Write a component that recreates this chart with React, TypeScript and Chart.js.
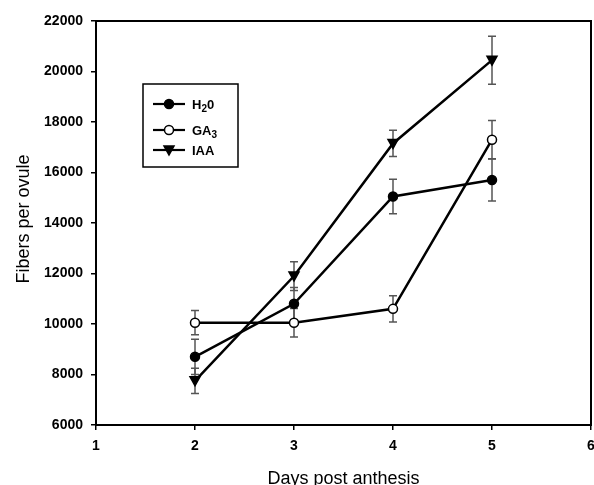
import React, { useEffect, useRef } from "react";
import { Chart, registerables } from "chart.js";

Chart.register(...registerables);

const days = [2, 3, 4, 5];
const h2oValues = [8700, 10800, 15050, 15700];
const h2oErrors = [700, 650, 680, 830];
const ga3Values = [10050, 10050, 10600, 17300];
const ga3Errors = [480, 560, 520, 760];
const iaaValues = [7750, 11900, 17150, 20450];
const iaaErrors = [500, 570, 520, 950];
const xTicks = [1, 2, 3, 4, 5, 6];
const yTicks = [6000, 8000, 10000, 12000, 14000, 16000, 18000, 20000, 22000];

const FONT = "'Liberation Sans', Arial, Helvetica, sans-serif";

const seriesList = [
  { key: "h2o", values: h2oValues, errors: h2oErrors, style: "circle", fill: "#000" },
  { key: "ga3", values: ga3Values, errors: ga3Errors, style: "circle", fill: "#fff" },
  { key: "iaa", values: iaaValues, errors: iaaErrors, style: "triangle", fill: "#000" },
];

function drawMarker(ctx: CanvasRenderingContext2D, style: string, fill: string, x: number, y: number) {
  ctx.save();
  ctx.lineWidth = 1.5;
  ctx.strokeStyle = "#000";
  ctx.fillStyle = fill;
  ctx.beginPath();
  if (style === "circle") {
    ctx.arc(x, y, 4.5, 0, Math.PI * 2);
  } else {
    ctx.moveTo(x - 5, y - 4);
    ctx.lineTo(x + 5, y - 4);
    ctx.lineTo(x, y + 5);
    ctx.closePath();
  }
  ctx.fill();
  ctx.stroke();
  ctx.restore();
}

const errorBarPlugin = {
  id: "errorBars",
  beforeDatasetsDraw(chart: any) {
    const ctx = chart.ctx as CanvasRenderingContext2D;
    const xs = chart.scales.x;
    const ys = chart.scales.y;
    ctx.save();
    ctx.strokeStyle = "#555";
    ctx.lineWidth = 1.5;
    seriesList.forEach((s) => {
      days.forEach((d, i) => {
        const px = xs.getPixelForValue(d);
        const top = ys.getPixelForValue(s.values[i] + s.errors[i]);
        const bot = ys.getPixelForValue(s.values[i] - s.errors[i]);
        ctx.beginPath();
        ctx.moveTo(px, top);
        ctx.lineTo(px, bot);
        ctx.moveTo(px - 4, top);
        ctx.lineTo(px + 4, top);
        ctx.moveTo(px - 4, bot);
        ctx.lineTo(px + 4, bot);
        ctx.stroke();
      });
    });
    ctx.restore();
  },
  afterDatasetsDraw(chart: any) {
    const ctx = chart.ctx as CanvasRenderingContext2D;
    const xs = chart.scales.x;
    const ys = chart.scales.y;
    seriesList.forEach((s) => {
      days.forEach((d, i) => {
        drawMarker(ctx, s.style, s.fill, xs.getPixelForValue(d), ys.getPixelForValue(s.values[i]));
      });
    });
  },
  afterDraw(chart: any) {
    const ctx = chart.ctx as CanvasRenderingContext2D;
    const a = chart.chartArea;
    ctx.save();
    ctx.strokeStyle = "#000";
    ctx.lineWidth = 2;
    ctx.strokeRect(a.left, a.top, a.right - a.left, a.bottom - a.top);

    ctx.fillStyle = "#000";
    ctx.font = `18px ${FONT}`;
    ctx.textAlign = "center";
    ctx.textBaseline = "alphabetic";
    ctx.fillText("Days post anthesis", (a.left + a.right) / 2, 484);
    ctx.save();
    ctx.translate(29, (a.top + a.bottom) / 2 - 4);
    ctx.rotate(-Math.PI / 2);
    ctx.fillText("Fibers per ovule", 0, 0);
    ctx.restore();

    const bx = 143, by = 84, bw = 95, bh = 83;
    ctx.lineWidth = 1.5;
    ctx.strokeStyle = "#000";
    ctx.strokeRect(bx, by, bw, bh);
    const rows = [
      { y: 104, s: seriesList[0], parts: [["H", 0], ["2", 1], ["0", 0]] },
      { y: 130, s: seriesList[1], parts: [["GA", 0], ["3", 1]] },
      { y: 150, s: seriesList[2], parts: [["IAA", 0]] },
    ];
    rows.forEach((r) => {
      ctx.strokeStyle = "#000";
      ctx.lineWidth = 2.2;
      ctx.beginPath();
      ctx.moveTo(153, r.y);
      ctx.lineTo(185, r.y);
      ctx.stroke();
      drawMarker(ctx, r.s.style, r.s.fill, 169, r.y);
      let tx = 192;
      ctx.textAlign = "left";
      ctx.textBaseline = "alphabetic";
      ctx.fillStyle = "#000";
      r.parts.forEach(([t, sub]) => {
        ctx.font = sub ? `bold 10px ${FONT}` : `bold 13px ${FONT}`;
        const yy = sub ? r.y + 8 : r.y + 5;
        ctx.fillText(t as string, tx, yy);
        tx += ctx.measureText(t as string).width;
      });
    });
    ctx.restore();
  },
};

export default function App() {
  const ref = useRef<HTMLCanvasElement | null>(null);
  useEffect(() => {
    if (!ref.current) return;
    const mk = (vals: number[]) => vals.map((v, i) => ({ x: days[i], y: v }));
    const chart = new Chart(ref.current, {
      type: "line",
      data: {
        datasets: seriesList.map((s) => ({
          label: s.key,
          data: mk(s.values),
          borderColor: "#000",
          borderWidth: 2.5,
          pointRadius: 0,
          fill: false,
          tension: 0,
        })),
      },
      options: {
        responsive: false,
        animation: false,
        layout: { padding: { top: 21, right: 3, left: 0, bottom: 0 } },
        plugins: { legend: { display: false }, tooltip: { enabled: false }, title: { display: false } },
        scales: {
          x: {
            type: "linear",
            min: 1,
            max: 6,
            afterBuildTicks: (s: any) => {
              s.ticks = xTicks.map((v) => ({ value: v }));
            },
            afterFit: (s: any) => {
              s.height = 60;
              s.paddingRight = 0;
              s.paddingLeft = 0;
            },
            ticks: {
              color: "#000",
              font: { family: FONT, size: 14, weight: "bold" },
              padding: 8,
              maxRotation: 0,
              callback: (v: any) => String(v),
            },
            grid: { drawOnChartArea: false, drawTicks: true, tickLength: 5, color: "#000", lineWidth: 1.5 },
            border: { display: true, color: "#000", width: 2 },
          },
          y: {
            type: "linear",
            min: 6000,
            max: 22000,
            afterBuildTicks: (s: any) => {
              s.ticks = yTicks.map((v) => ({ value: v }));
            },
            afterFit: (s: any) => {
              s.width = 96;
              s.paddingTop = 0;
              s.paddingBottom = 0;
            },
            ticks: {
              color: "#000",
              font: { family: FONT, size: 14, weight: "bold" },
              padding: 8,
              callback: (v: any) => String(v),
            },
            grid: { drawOnChartArea: false, drawTicks: true, tickLength: 5, color: "#000", lineWidth: 1.5 },
            border: { display: true, color: "#000", width: 2 },
          },
        },
      },
      plugins: [errorBarPlugin],
    } as any);
    return () => chart.destroy();
  }, []);
  return (
    <div style={{ position: "absolute", left: 0, top: 0, width: 594, height: 485, background: "#fff" }}>
      <canvas ref={ref} width={594} height={485} style={{ display: "block" }} />
    </div>
  );
}
